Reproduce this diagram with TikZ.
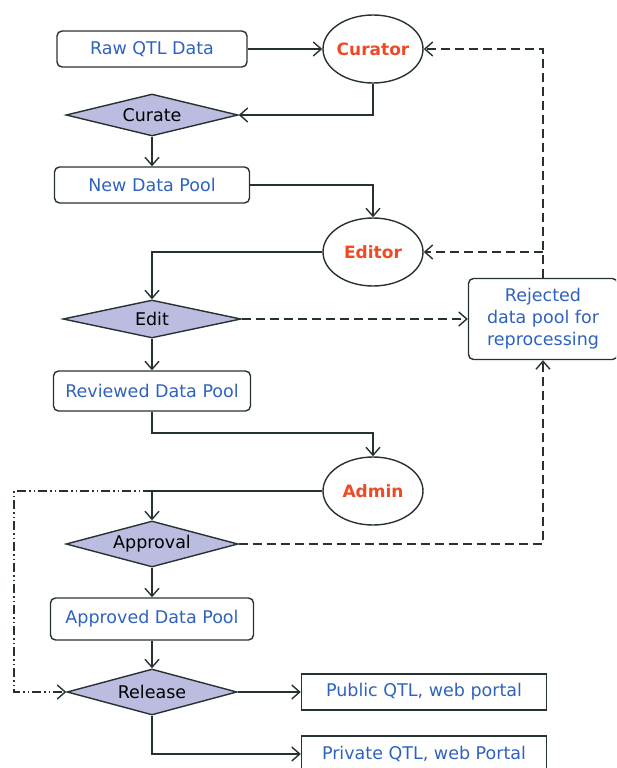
\documentclass[tikz,border=0pt]{standalone}
\usepackage{fontspec}
\setmainfont{DejaVu Sans}
\usetikzlibrary{shapes.geometric,arrows.meta}
\definecolor{txtblue}{HTML}{2F62BE}
\definecolor{actred}{HTML}{EE4A26}
\definecolor{lav}{HTML}{BCBCE0}
\definecolor{ln}{HTML}{263232}
\tikzset{
  base/.style={draw=ln, line width=1.4pt, font=\fontsize{17.5}{22}\selectfont},
  databox/.style={base, rectangle, rounded corners=5pt, text=txtblue, inner sep=0pt},
  outbox/.style={base, rectangle, text=txtblue, inner sep=0pt, minimum width=245pt, minimum height=36pt},
  actor/.style={base, ellipse, inner sep=0pt, minimum width=100pt, minimum height=68pt, text=actred, font=\fontsize{17}{20}\selectfont\bfseries},
  decide/.style={base, diamond, fill=lav, inner sep=0pt, text=black},
  arr/.style={draw=ln, line width=1.4pt, -{Straight Barb[length=8pt,width=14pt,line width=1.4pt]}},
  dsh/.style={dash pattern=on 9pt off 5pt},
  dshdot/.style={dash pattern=on 9pt off 3pt on 1.5pt off 3pt on 1.5pt off 3pt},
}
\begin{document}
\begin{tikzpicture}[x=1pt,y=-1pt]
\useasboundingbox (0,0) rectangle (616,768);
\clip (0,0) rectangle (616,768);
% nodes
\node[databox, minimum width=190pt, minimum height=36pt] (raw) at (152,49) {Raw QTL Data};
\node[actor] (cur) at (373,49) {\makebox[0pt]{Curator}};
\node[decide, minimum width=172pt, minimum height=42pt] (curate) at (152,115) {\makebox[0pt]{Curate}};
\node[databox, minimum width=195pt, minimum height=36pt] (ndp) at (152,185) {New Data Pool};
\node[actor] (editor) at (373,252) {\makebox[0pt]{Editor}};
\node[decide, minimum width=178pt, minimum height=38pt] (edit) at (152,319) {\makebox[0pt]{Edit}};
\node[databox, minimum width=149pt, minimum height=81pt, align=center] (rej) at (543,319) {Rejected\\data pool for\\reprocessing};
\node[databox, minimum width=197pt, minimum height=40pt] (rdp) at (152,391) {Reviewed Data Pool};
\node[actor] (admin) at (373,491) {\makebox[0pt]{Admin}};
\node[decide, minimum width=172pt, minimum height=46pt] (appr) at (152,544) {\makebox[0pt]{Approval}};
\node[databox, minimum width=203pt, minimum height=42pt] (adp) at (152,619) {Approved Data Pool};
\node[decide, minimum width=170pt, minimum height=46pt] (rel) at (152,692) {\makebox[0pt]{Release}};
\node[outbox] (pub) at (424,692) {Public QTL, web portal};
\node[outbox] (priv) at (424,754) {Private QTL, web Portal};
% helper coordinates
\coordinate (rdpturn) at (152,433);
\coordinate (jct) at (appr.north |- admin.west);
\coordinate (ddl) at (14,491);
% solid connectors
\draw[arr] (raw.east) -- (cur.west);
\draw[arr] (cur.south) |- (curate.east);
\draw[arr] (curate.south) -- (ndp.north);
\draw[arr] (ndp.east) -| (editor.north);
\draw[arr] (editor.west) -| (edit.north);
\draw[arr] (edit.south) -- (rdp.north);
\draw[arr] (rdp.south) -- (rdpturn) -| (admin.north);
\draw[arr] (admin.west) -| (appr.north);
\draw[arr] (appr.south) -- (adp.north);
\draw[arr] (adp.south) -- (rel.north);
\draw[arr] (rel.east) -- (pub.west);
\draw[arr] (rel.south) |- (priv.west);
% dashed connectors
\draw[arr, dsh] (edit.east) -- (rej.west);
\draw[arr, dsh] (rej.north) |- (cur.east);
\draw[arr, dsh] (rej.north |- editor.east) -- (editor.east);
\draw[arr, dsh] (appr.east) -| (rej.south);
% dash-dot connector
\draw[arr, dshdot] (jct) -- (ddl) |- (rel.west);
\end{tikzpicture}
\end{document}
